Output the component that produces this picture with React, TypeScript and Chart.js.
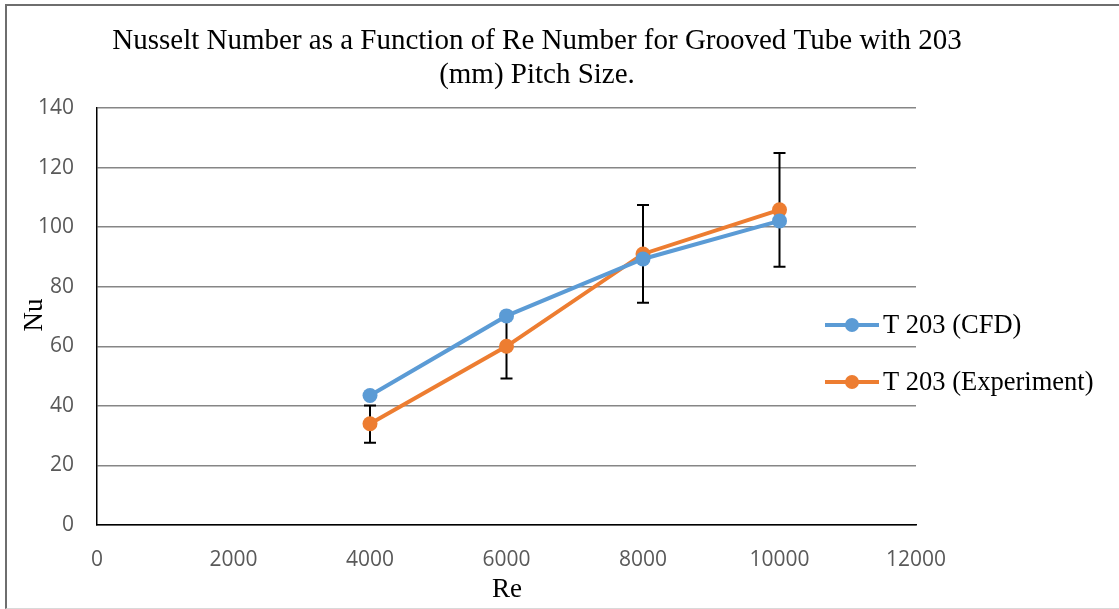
import React, { useEffect, useRef } from "react";
import { Chart, registerables } from "chart.js";

Chart.register(...registerables);

const reynolds = [4000, 6000, 8000, 10000];
const nuCFD = [43.5, 70.2, 89.3, 102.1];
const nuExperiment = [34, 60, 91, 105.8];
const expErrorPlus = [6.1, 10.8, 16.4, 19.1];
const expErrorMinus = [6.4, 10.8, 16.4, 19.1];

const titleLines = [
  "Nusselt Number as a Function of Re Number for Grooved Tube with 203",
  "(mm) Pitch Size.",
];
const xTitle = "Re";
const yTitle = "Nu";
const seriesNames = ["T 203 (CFD)", "T 203 (Experiment)"];
const seriesColors = ["#5B9BD5", "#ED7D31"];

const SERIF = '"Liberation Serif", "Times New Roman", serif';
const SANS = '"Open Sans", "Noto Sans", sans-serif';

const errorBarPlugin = {
  id: "errorBars",
  beforeDatasetsDraw(chart: any) {
    const ctx = chart.ctx;
    const xs = chart.scales.x;
    const ys = chart.scales.y;
    ctx.save();
    ctx.strokeStyle = "#000000";
    ctx.lineWidth = 2;
    reynolds.forEach((re, i) => {
      const x = xs.getPixelForValue(re);
      const yTop = ys.getPixelForValue(nuExperiment[i] + expErrorPlus[i]);
      const yBot = ys.getPixelForValue(nuExperiment[i] - expErrorMinus[i]);
      ctx.beginPath();
      ctx.moveTo(x, yTop);
      ctx.lineTo(x, yBot);
      ctx.moveTo(x - 6, yTop);
      ctx.lineTo(x + 6, yTop);
      ctx.moveTo(x - 6, yBot);
      ctx.lineTo(x + 6, yBot);
      ctx.stroke();
    });
    ctx.restore();
  },
};

const textPlugin = {
  id: "texts",
  afterDraw(chart: any) {
    const ctx = chart.ctx;
    ctx.save();
    ctx.fillStyle = "#000000";
    ctx.textAlign = "center";
    ctx.textBaseline = "alphabetic";
    ctx.font = `29px ${SERIF}`;
    ctx.fillText(titleLines[0], 537, 49);
    ctx.fillText(titleLines[1], 537, 83);

    ctx.font = `27px ${SERIF}`;
    ctx.textBaseline = "middle";
    ctx.fillText(xTitle, 507, 590);
    ctx.save();
    ctx.translate(35, 315);
    ctx.rotate(-Math.PI / 2);
    ctx.fillText(yTitle, 0, 0);
    ctx.restore();

    // legend
    const legendY = [325, 382];
    chart.data.datasets.forEach((ds: any, i: number) => {
      const y = legendY[i];
      ctx.strokeStyle = ds.borderColor;
      ctx.lineWidth = 4;
      ctx.beginPath();
      ctx.moveTo(825, y);
      ctx.lineTo(879, y);
      ctx.stroke();
      ctx.fillStyle = ds.backgroundColor;
      ctx.beginPath();
      ctx.arc(852, y, 7, 0, Math.PI * 2);
      ctx.fill();
      ctx.fillStyle = "#000000";
      ctx.textAlign = "left";
      ctx.textBaseline = "middle";
      ctx.font = `26.5px ${SERIF}`;
      ctx.fillText(ds.label, 883, y + 1);
    });
    ctx.restore();
  },
};

export default function App() {
  const canvasRef = useRef<HTMLCanvasElement | null>(null);

  useEffect(() => {
    if (!canvasRef.current) return;
    const chart = new Chart(canvasRef.current, {
      type: "line",
      data: {
        datasets: [
          {
            label: seriesNames[0],
            data: reynolds.map((x, i) => ({ x, y: nuCFD[i] })),
            borderColor: seriesColors[0],
            backgroundColor: seriesColors[0],
            borderWidth: 4,
            pointRadius: 7.5,
            pointBorderWidth: 0,
            pointBackgroundColor: seriesColors[0],
            tension: 0,
          },
          {
            label: seriesNames[1],
            data: reynolds.map((x, i) => ({ x, y: nuExperiment[i] })),
            borderColor: seriesColors[1],
            backgroundColor: seriesColors[1],
            borderWidth: 4,
            pointRadius: 7.5,
            pointBorderWidth: 0,
            pointBackgroundColor: seriesColors[1],
            tension: 0,
          },
        ],
      },
      options: {
        animation: false,
        responsive: true,
        maintainAspectRatio: false,
        layout: { padding: { top: 108, right: 203, bottom: 0, left: 0 } },
        plugins: {
          legend: { display: false },
          title: { display: false },
          tooltip: { enabled: false },
        },
        scales: {
          x: {
            type: "linear",
            min: 0,
            max: 12000,
            ticks: {
              stepSize: 2000,
              color: "#595959",
              font: { family: SANS, size: 21 },
              padding: 22,
              maxRotation: 0,
              autoSkip: false,
              callback: (v: any) => String(v),
            },
            grid: { display: false, drawTicks: false },
            border: { display: true, color: "#000000", width: 1.5 },
            afterFit: (scale: any) => {
              scale.height = 84;
            },
          },
          y: {
            type: "linear",
            min: 0,
            max: 140,
            ticks: {
              stepSize: 20,
              color: "#595959",
              font: { family: SANS, size: 21 },
              padding: 23,
              callback: (v: any) => String(v),
            },
            grid: { display: true, drawTicks: false, color: "#868686", lineWidth: 1.5 },
            border: { display: true, color: "#000000", width: 1.5 },
            afterFit: (scale: any) => {
              scale.width = 97;
            },
          },
        },
      },
      plugins: [errorBarPlugin, textPlugin],
    });
    return () => chart.destroy();
  }, []);

  return (
    <div
      style={{
        position: "fixed",
        left: 0,
        top: 0,
        width: 1119,
        height: 609,
        background: "#ffffff",
        overflow: "hidden",
      }}
    >
      <div
        style={{
          position: "absolute",
          left: 5,
          top: 4,
          width: 1200,
          height: 605,
          boxSizing: "border-box",
          borderLeft: "2px solid #6e6e6e",
          borderTop: "2px solid #6e6e6e",
          borderBottom: "1px solid #d9d9d9",
        }}
      />
      <div style={{ position: "absolute", left: 0, top: 0, width: 1119, height: 609 }}>
        <canvas ref={canvasRef} />
      </div>
    </div>
  );
}
